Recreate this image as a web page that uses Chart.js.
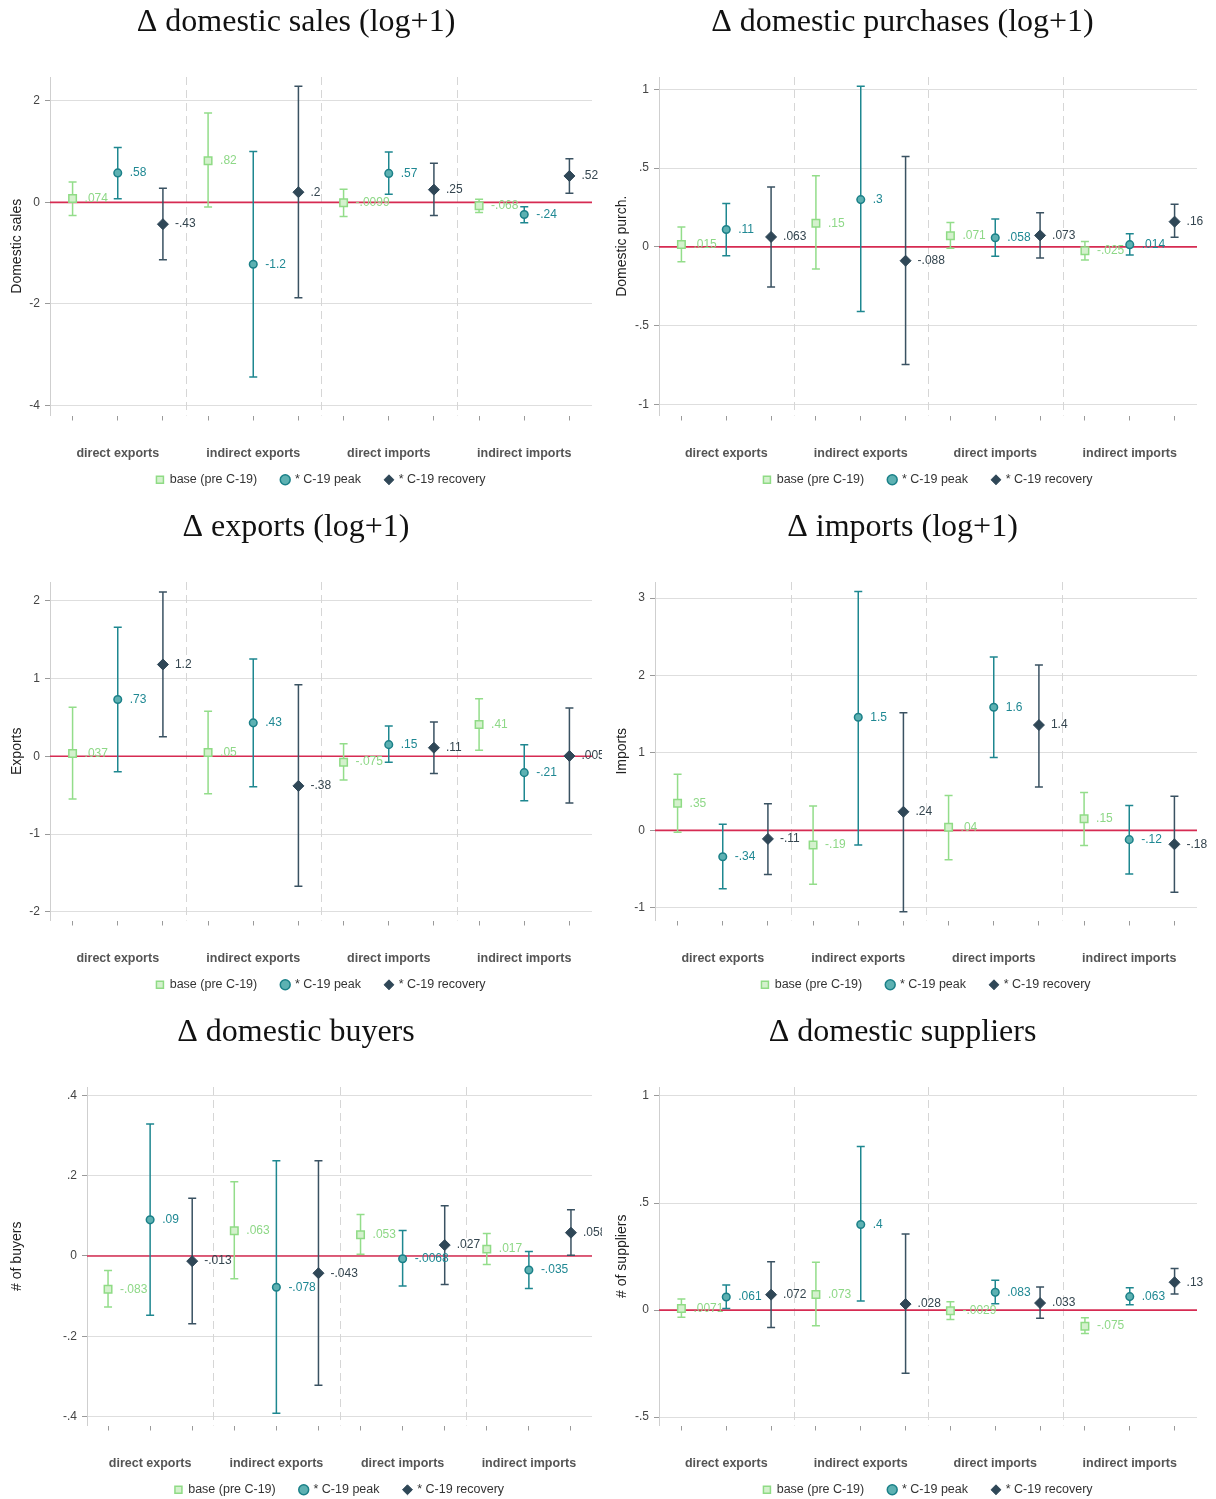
<!DOCTYPE html>
<html>
<head>
<meta charset="utf-8">
<script src="https://cdn.jsdelivr.net/npm/chart.js@4.4.1/dist/chart.umd.min.js"></script>
<style>
  body { margin: 0; width: 1216px; height: 1499px; overflow: hidden; background: #fff; position: relative; }
  .panel { position: absolute; height: 505px; }
</style>
</head>
<body>
<div class="panel" style="left:0;top:0;width:602px"><canvas id="c1"></canvas></div>
<div class="panel" style="left:608px;top:0;width:608px"><canvas id="c2"></canvas></div>
<div class="panel" style="left:0;top:505px;width:602px"><canvas id="c3"></canvas></div>
<div class="panel" style="left:608px;top:505px;width:608px"><canvas id="c4"></canvas></div>
<div class="panel" style="left:0;top:1010px;width:602px"><canvas id="c5"></canvas></div>
<div class="panel" style="left:608px;top:1010px;width:608px"><canvas id="c6"></canvas></div>
<script>
const categories = ["direct exports", "indirect exports", "direct imports", "indirect imports"];
const seriesNames = ["base (pre C-19)", "* C-19 peak", "* C-19 recovery"];

// estimates and CI bounds, in plot order (base, peak, recovery) x 4 groups
const salesEst = [0.074, 0.58, -0.43, 0.82, -1.22, 0.2, -0.0099, 0.57, 0.25, -0.068, -0.24, 0.52];
const salesLo  = [-0.26, 0.07, -1.13, -0.09, -3.44, -1.88, -0.28, 0.16, -0.26, -0.20, -0.40, 0.18];
const salesHi  = [0.40, 1.08, 0.28, 1.76, 1.00, 2.29, 0.26, 0.99, 0.77, 0.06, -0.085, 0.86];
const salesTicks = [-4, -2, 0, 2];

const purchEst = [0.015, 0.11, 0.063, 0.15, 0.3, -0.088, 0.071, 0.058, 0.073, -0.025, 0.014, 0.16];
const purchLo  = [-0.095, -0.057, -0.254, -0.141, -0.41, -0.746, -0.008, -0.059, -0.071, -0.084, -0.052, 0.061];
const purchHi  = [0.126, 0.275, 0.38, 0.452, 1.02, 0.574, 0.154, 0.177, 0.217, 0.034, 0.084, 0.27];
const purchTicks = [-1, -0.5, 0, 0.5, 1];

const expEst = [0.037, 0.73, 1.18, 0.05, 0.43, -0.38, -0.075, 0.15, 0.11, 0.41, -0.21, 0.005];
const expLo  = [-0.55, -0.20, 0.25, -0.48, -0.39, -1.67, -0.305, -0.077, -0.22, 0.077, -0.57, -0.60];
const expHi  = [0.63, 1.66, 2.11, 0.58, 1.25, 0.92, 0.16, 0.39, 0.44, 0.74, 0.15, 0.62];
const expTicks = [-2, -1, 0, 1, 2];

const impEst = [0.35, -0.34, -0.11, -0.19, 1.46, 0.24, 0.04, 1.59, 1.36, 0.15, -0.12, -0.18];
const impLo  = [-0.026, -0.755, -0.57, -0.695, -0.19, -1.05, -0.38, 0.94, 0.56, -0.194, -0.565, -0.80];
const impHi  = [0.725, 0.078, 0.345, 0.315, 3.085, 1.52, 0.45, 2.24, 2.136, 0.49, 0.32, 0.44];
const impTicks = [-1, 0, 1, 2, 3];

const buyEst = [-0.083, 0.09, -0.013, 0.063, -0.078, -0.043, 0.053, -0.0068, 0.027, 0.017, -0.035, 0.058];
const buyLo  = [-0.127, -0.148, -0.169, -0.057, -0.392, -0.3225, 0.004, -0.075, -0.071, -0.0215, -0.081, 0.0018];
const buyHi  = [-0.036, 0.329, 0.144, 0.185, 0.2375, 0.2375, 0.1035, 0.0635, 0.125, 0.056, 0.011, 0.115];
const buyTicks = [-0.4, -0.2, 0, 0.2, 0.4];

const supEst = [0.0071, 0.061, 0.072, 0.073, 0.4, 0.028, -0.0029, 0.083, 0.033, -0.075, 0.063, 0.13];
const supLo  = [-0.033, 0.008, -0.081, -0.0735, 0.042, -0.295, -0.044, 0.03, -0.0375, -0.109, 0.025, 0.075];
const supHi  = [0.0516, 0.117, 0.226, 0.2235, 0.764, 0.355, 0.039, 0.139, 0.108, -0.036, 0.1045, 0.194];
const supTicks = [-0.5, 0, 0.5, 1];

const SANS = "'Liberation Sans', Arial, sans-serif";
const markers = [
  {style: "rect", radius: 5.3, bg: "#d4f1cd", border: "#8fdb85", bw: 1.5, bar: "#93dd8a", text: "#8ed887"},
  {style: "circle", radius: 3.8, bg: "#5db1b2", border: "#1b8088", bw: 1.5, bar: "#1e8790", text: "#1f8893"},
  {style: "rectRot", radius: 5.5, bg: "#2f4757", border: "#2f4757", bw: 1, bar: "#3a5262", text: "#34454f"}
];

function fmt(v) {
  const s = String(Number(Number(v).toPrecision(2)));
  return s.replace(/^(-?)0\./, "$1.");
}

const panels = [
  {id: "c1", title: "Δ domestic sales (log+1)", ytitle: "Domestic sales", est: salesEst, lo: salesLo, hi: salesHi, ticks: salesTicks, min: -4.2, max: 2.47, axisX: 50, padRight: 10, ytPad: 8.6},
  {id: "c2", title: "Δ domestic purchases (log+1)", ytitle: "Domestic purch.", est: purchEst, lo: purchLo, hi: purchHi, ticks: purchTicks, min: -1.07, max: 1.078, axisX: 51, padRight: 19, ytPad: 5.6},
  {id: "c3", title: "Δ exports (log+1)", ytitle: "Exports", est: expEst, lo: expLo, hi: expHi, ticks: expTicks, min: -2.11, max: 2.24, axisX: 50, padRight: 10, ytPad: 8.6},
  {id: "c4", title: "Δ imports (log+1)", ytitle: "Imports", est: impEst, lo: impLo, hi: impHi, ticks: impTicks, min: -1.164, max: 3.207, axisX: 47, padRight: 19, ytPad: 5.6},
  {id: "c5", title: "Δ domestic buyers", ytitle: "# of buyers", est: buyEst, lo: buyLo, hi: buyHi, ticks: buyTicks, min: -0.4225, max: 0.421, axisX: 87, padRight: 10, ytPad: 8.6},
  {id: "c6", title: "Δ domestic suppliers", ytitle: "# of suppliers", est: supEst, lo: supLo, hi: supHi, ticks: supTicks, min: -0.539, max: 1.042, axisX: 51, padRight: 19, ytPad: 5.6}
];

function makeBars(p) {
  return {
    id: "bars",
    beforeDatasetsDraw(chart) {
      const {ctx, chartArea: a, scales: {x, y}} = chart;
      ctx.save();
      // group separators
      ctx.strokeStyle = "#d6d6d6";
      ctx.lineWidth = 1;
      ctx.setLineDash([8, 5]);
      [3.5, 6.5, 9.5].forEach(v => {
        const px = Math.round(x.getPixelForValue(v)) + 0.5;
        ctx.beginPath();
        ctx.moveTo(px, a.top);
        ctx.lineTo(px, a.bottom);
        ctx.stroke();
      });
      ctx.setLineDash([]);
      // zero line
      const y0 = y.getPixelForValue(0);
      ctx.strokeStyle = "#d62b52";
      ctx.lineWidth = 1.6;
      ctx.beginPath();
      ctx.moveTo(a.left, y0);
      ctx.lineTo(a.right, y0);
      ctx.stroke();
      // confidence intervals
      p.est.forEach((v, i) => {
        const m = markers[i % 3];
        const px = x.getPixelForValue(i + 1);
        const top = y.getPixelForValue(p.hi[i]);
        const bot = y.getPixelForValue(p.lo[i]);
        ctx.strokeStyle = m.bar;
        ctx.lineWidth = 1.5;
        ctx.beginPath();
        ctx.moveTo(px, top); ctx.lineTo(px, bot);
        ctx.moveTo(px - 4, top); ctx.lineTo(px + 4, top);
        ctx.moveTo(px - 4, bot); ctx.lineTo(px + 4, bot);
        ctx.stroke();
      });
      ctx.restore();
    },
    afterDatasetsDraw(chart) {
      const {ctx, scales: {x, y}} = chart;
      ctx.save();
      ctx.font = "12px " + SANS;
      ctx.textAlign = "left";
      ctx.textBaseline = "middle";
      p.est.forEach((v, i) => {
        ctx.fillStyle = markers[i % 3].text;
        ctx.fillText(fmt(v), x.getPixelForValue(i + 1) + 12, y.getPixelForValue(v));
      });
      ctx.restore();
    }
  };
}

panels.forEach(p => {
  const datasets = seriesNames.map((name, s) => ({
    label: name,
    data: categories.map((c, g) => ({x: 3 * g + s + 1, y: p.est[3 * g + s]})),
    pointStyle: markers[s].style,
    pointRadius: markers[s].radius,
    pointBackgroundColor: markers[s].bg,
    pointBorderColor: markers[s].border,
    pointBorderWidth: markers[s].bw,
    backgroundColor: markers[s].bg,
    borderColor: markers[s].border,
    showLine: false
  }));

  new Chart(document.getElementById(p.id), {
    type: "scatter",
    data: {datasets},
    plugins: [makeBars(p)],
    options: {
      responsive: true,
      maintainAspectRatio: false,
      animation: false,
      events: [],
      layout: {padding: {left: 0, right: p.padRight, top: 0, bottom: 9}},
      plugins: {
        tooltip: {enabled: false},
        title: {
          display: true,
          text: p.title,
          color: "#111",
          font: {family: "'Liberation Serif', 'Times New Roman', serif", size: 32, weight: "normal"},
          padding: {top: 3.8, bottom: 34.8}
        },
        legend: {
          position: "bottom",
          fullSize: false,
          labels: {
            usePointStyle: true,
            boxWidth: 7,
            boxHeight: 7,
            padding: 12,
            color: "#333",
            font: {family: SANS, size: 12.5},
            generateLabels: chart => {
              const items = Chart.defaults.plugins.legend.labels.generateLabels(chart);
              items.forEach((it, k) => { if (k < items.length - 1) it.text += "\u2002\u2002"; });
              return items;
            }
          }
        }
      },
      scales: {
        x: {
          type: "linear",
          min: 0.5,
          max: 12.5,
          afterBuildTicks: sc => { sc.ticks = p.est.map((v, i) => ({value: i + 1})); },
          afterFit: sc => { sc.height = 46; },
          grid: {display: true, drawOnChartArea: false, drawTicks: true, tickLength: 5, tickColor: "#9a9a9a"},
          border: {display: false},
          ticks: {
            autoSkip: false,
            maxRotation: 0,
            minRotation: 0,
            padding: 26,
            color: "#555",
            font: {family: SANS, size: 12.5, weight: "bold"},
            callback: v => (v % 3 === 2 ? categories[(v - 2) / 3] : "")
          }
        },
        y: {
          min: p.min,
          max: p.max,
          afterBuildTicks: sc => { sc.ticks = p.ticks.map(v => ({value: v})); },
          afterFit: sc => { sc.width = p.axisX; },
          grid: {color: "#dedede", lineWidth: 1, drawTicks: true, tickLength: 5, tickColor: "#9a9a9a"},
          border: {display: true, color: "#cfcfcf"},
          ticks: {
            padding: 5,
            color: "#444",
            font: {family: SANS, size: 12},
            callback: v => fmt(v)
          },
          title: {
            display: true,
            text: p.ytitle,
            color: "#222",
            font: {family: SANS, size: 14},
            padding: {top: p.ytPad, bottom: 0}
          }
        }
      }
    }
  });
});
</script>
</body>
</html>
